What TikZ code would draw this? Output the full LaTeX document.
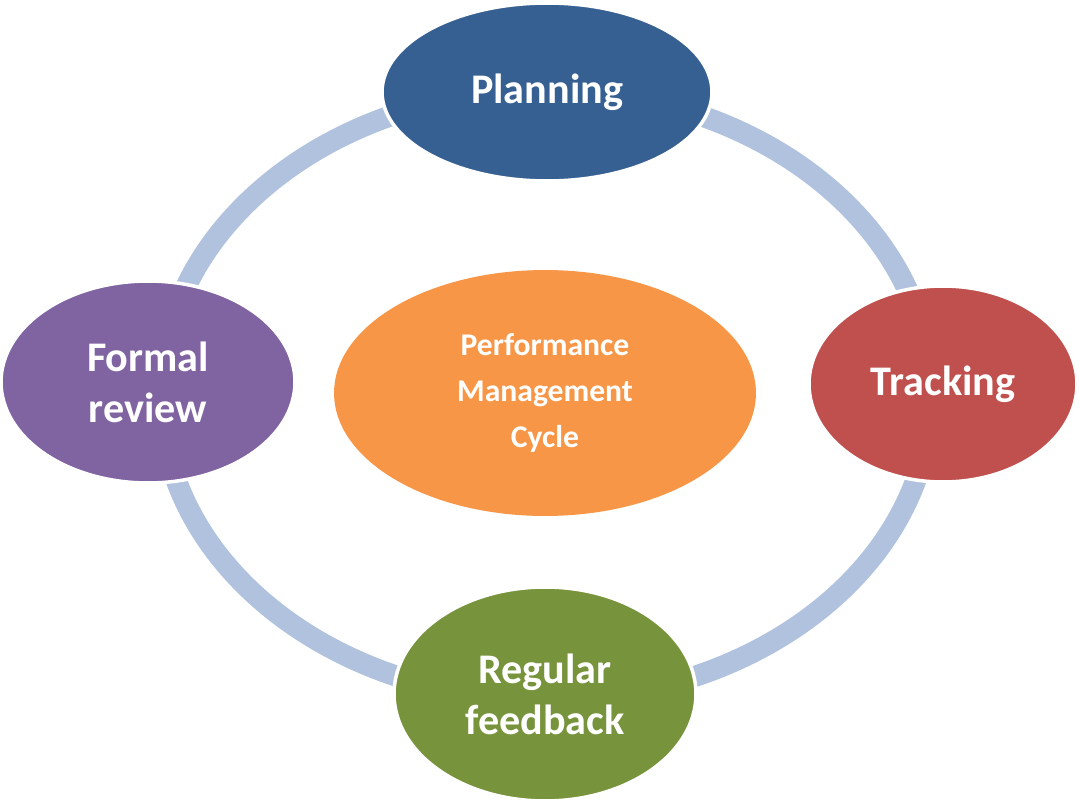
\documentclass[tikz,border=0pt]{standalone}
\usepackage{fontspec}
\setmainfont{Carlito}
\usetikzlibrary{shapes.geometric}
\definecolor{ringc}{RGB}{176,194,222}
\definecolor{planc}{RGB}{55,96,146}
\definecolor{trackc}{RGB}{192,80,77}
\definecolor{formc}{RGB}{128,100,162}
\definecolor{regc}{RGB}{119,147,60}
\definecolor{perfc}{RGB}{247,150,70}
\begin{document}
\begin{tikzpicture}[x=0.02cm,y=-0.02cm,
  stage/.style={ellipse,draw=white,line width=2pt,text=white,font=\bfseries\fontsize{24}{29}\selectfont,align=center,inner sep=0pt}]
\useasboundingbox (0,0) rectangle (1079,808);
\draw[ringc,line width=12pt] (546,395) ellipse [x radius=385,y radius=305];
\node[stage,fill=planc,minimum width=330\pgflinewidth/2,minimum width=6.6cm,minimum height=3.56cm] (plan) at (547,92) {Planning};
\node[stage,fill=trackc,minimum width=5.36cm,minimum height=3.92cm] (track) at (943,384) {Tracking};
\node[stage,fill=formc,minimum width=5.88cm,minimum height=4.04cm] (form) at (148,382) {Formal\\review};
\node[stage,fill=regc,minimum width=6.04cm,minimum height=4.28cm] (reg) at (545,694) {Regular\\feedback};
\node[stage,fill=perfc,draw=none,minimum width=8.44cm,minimum height=4.92cm,font=\bfseries\fontsize{18}{26}\selectfont] (perf) at (545,393) {Performance\\Management\\Cycle};
\end{tikzpicture}
\end{document}
